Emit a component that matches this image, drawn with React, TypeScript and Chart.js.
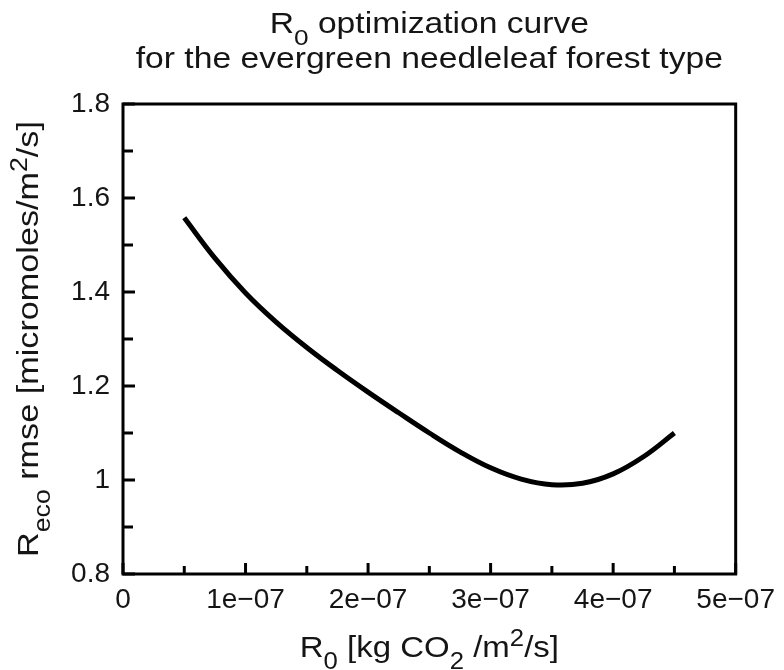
import React, { useEffect, useRef } from "react";
import { Chart, registerables } from "chart.js";

Chart.register(...registerables);

// ---- data ----
const r0Values = [
  0.5e-7, 0.75e-7, 1.0e-7, 1.25e-7, 1.5e-7, 1.75e-7, 2.0e-7, 2.25e-7, 2.5e-7,
  2.75e-7, 3.0e-7, 3.25e-7, 3.5e-7, 3.75e-7, 4.0e-7, 4.25e-7, 4.5e-7,
];
const rmseValues = [
  1.558, 1.472, 1.398, 1.336, 1.282, 1.233, 1.187, 1.143, 1.1,
  1.06, 1.026, 1.002, 0.99, 0.993, 1.013, 1.05, 1.1,
];

const xTickValues = [0, 1e-7, 2e-7, 3e-7, 4e-7, 5e-7];
const xTickLabels = ["0", "1e\u221207", "2e\u221207", "3e\u221207", "4e\u221207", "5e\u221207"];
const xMinorTicks = [0.5e-7, 1.5e-7, 2.5e-7, 3.5e-7, 4.5e-7];
const yTickValues = [0.8, 1.0, 1.2, 1.4, 1.6, 1.8];
const yTickLabels = ["0.8", "1", "1.2", "1.4", "1.6", "1.8"];
const yMinorTicks = [0.9, 1.1, 1.3, 1.5, 1.7];

type Seg = { text: string; kind?: "sub" | "sup" };
const titleLine1: Seg[] = [{ text: "R" }, { text: "0", kind: "sub" }, { text: " optimization curve" }];
const titleLine2: Seg[] = [{ text: "for the evergreen needleleaf forest type" }];
const xTitle: Seg[] = [
  { text: "R" }, { text: "0", kind: "sub" }, { text: " [kg CO" }, { text: "2", kind: "sub" },
  { text: " /m" }, { text: "2", kind: "sup" }, { text: "/s]" },
];
const yTitle: Seg[] = [
  { text: "R" }, { text: "eco", kind: "sub" }, { text: " rmse [micromoles/m" },
  { text: "2", kind: "sup" }, { text: "/s]" },
];

const FONT = '"Liberation Sans", Arial, Helvetica, sans-serif';
const TEXT_COLOR = "#151515";

function fontFor(seg: Seg, size: number) {
  const fs = seg.kind ? size * 0.78 : size;
  return `${fs}px ${FONT}`;
}

function richWidth(ctx: CanvasRenderingContext2D, segs: Seg[], size: number) {
  let w = 0;
  for (const s of segs) {
    ctx.font = fontFor(s, size);
    w += ctx.measureText(s.text).width;
  }
  return w;
}

// draws centered rich text at origin (already translated/rotated), baseline y=0
function drawRich(ctx: CanvasRenderingContext2D, segs: Seg[], size: number, sx: number) {
  const w = richWidth(ctx, segs, size);
  ctx.save();
  ctx.scale(sx, 1);
  let x = -w / 2;
  ctx.textBaseline = "alphabetic";
  ctx.textAlign = "left";
  ctx.fillStyle = TEXT_COLOR;
  for (const s of segs) {
    ctx.font = fontFor(s, size);
    const dy = s.kind === "sub" ? size * 0.4 : s.kind === "sup" ? -size * 0.36 : 0;
    ctx.fillText(s.text, x, dy);
    x += ctx.measureText(s.text).width;
  }
  ctx.restore();
}

const decorPlugin = {
  id: "decor",
  afterDraw(chart: any) {
    const ctx: CanvasRenderingContext2D = chart.ctx;
    const area = chart.chartArea;
    const xs = chart.scales.x;
    const ys = chart.scales.y;
    ctx.save();
    ctx.strokeStyle = "#000";
    ctx.lineWidth = 3;
    ctx.lineCap = "butt";
    ctx.lineJoin = "miter";
    ctx.strokeRect(area.left, area.top, area.right - area.left, area.bottom - area.top);

    const tick = (x1: number, y1: number, x2: number, y2: number) => {
      ctx.beginPath();
      ctx.moveTo(x1, y1);
      ctx.lineTo(x2, y2);
      ctx.stroke();
    };
    for (const v of xTickValues) {
      const px = xs.getPixelForValue(v);
      tick(px, area.bottom, px, area.bottom - 11);
    }
    for (const v of xMinorTicks) {
      const px = xs.getPixelForValue(v);
      tick(px, area.bottom, px, area.bottom - 8);
    }
    for (const v of yTickValues) {
      const py = ys.getPixelForValue(v);
      tick(area.left, py, area.left + 12, py);
    }
    for (const v of yMinorTicks) {
      const py = ys.getPixelForValue(v);
      tick(area.left, py, area.left + 10, py);
    }

    const cx = (area.left + area.right) / 2;
    const cy = (area.top + area.bottom) / 2;

    // title
    ctx.save();
    ctx.translate(cx, 33);
    drawRich(ctx, titleLine1, 29, 1.16);
    ctx.restore();
    ctx.save();
    ctx.translate(cx, 68);
    drawRich(ctx, titleLine2, 29, 1.16);
    ctx.restore();

    // x title
    ctx.save();
    ctx.translate(cx, 657);
    drawRich(ctx, xTitle, 30, 1.1);
    ctx.restore();

    // y title
    ctx.save();
    ctx.translate(38, cy);
    ctx.rotate(-Math.PI / 2);
    drawRich(ctx, yTitle, 30, 1.14);
    ctx.restore();

    ctx.restore();
  },
};

export default function App() {
  const canvasRef = useRef<HTMLCanvasElement | null>(null);

  useEffect(() => {
    const canvas = canvasRef.current;
    if (!canvas) return;
    const chart = new Chart(canvas, {
      type: "line",
      data: {
        datasets: [
          {
            data: r0Values.map((x, i) => ({ x, y: rmseValues[i] })),
            borderColor: "#000",
            borderWidth: 5,
            pointRadius: 0,
            fill: false,
            tension: 0.4,
          },
        ],
      },
      options: {
        animation: false,
        responsive: false,
        devicePixelRatio: 1,
        layout: { padding: { top: 104, right: 43, left: 0, bottom: 0 } },
        plugins: {
          legend: { display: false },
          title: { display: false },
          tooltip: { enabled: false },
        },
        scales: {
          x: {
            type: "linear",
            min: 0,
            max: 5e-7,
            grid: { display: false, drawTicks: false },
            border: { display: false },
            afterBuildTicks: (s: any) => {
              s.ticks = xTickValues.map((value) => ({ value }));
            },
            afterFit: (s: any) => {
              s.height = 96;
            },
            ticks: {
              padding: 9,
              maxRotation: 0,
              autoSkip: false,
              color: TEXT_COLOR,
              font: { family: FONT, size: 28 },
              callback: (_v: any, i: number) => xTickLabels[i],
            },
          },
          y: {
            type: "linear",
            min: 0.8,
            max: 1.8,
            grid: { display: false, drawTicks: false },
            border: { display: false },
            afterBuildTicks: (s: any) => {
              s.ticks = yTickValues.map((value) => ({ value }));
            },
            afterFit: (s: any) => {
              s.width = 123;
            },
            ticks: {
              padding: 13,
              autoSkip: false,
              color: TEXT_COLOR,
              font: { family: FONT, size: 28 },
              callback: (_v: any, i: number) => yTickLabels[i],
            },
          },
        },
      },
      plugins: [decorPlugin],
    } as any);
    return () => chart.destroy();
  }, []);

  return (
    <div style={{ position: "fixed", left: 0, top: 0, width: 784, height: 670, background: "#fff" }}>
      <canvas ref={canvasRef} width={784} height={670} style={{ display: "block" }} />
    </div>
  );
}
